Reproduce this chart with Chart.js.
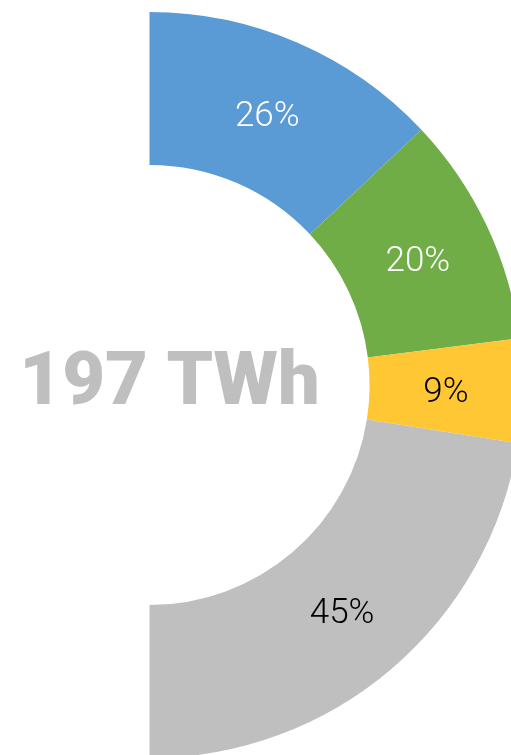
<!DOCTYPE html>
<html>
<head>
<meta charset="utf-8">
<script src="https://cdn.jsdelivr.net/npm/chart.js@4/dist/chart.umd.min.js"></script>
<style>
  html, body { margin: 0; padding: 0; background: #fff; overflow: hidden; }
  #wrap { position: relative; width: 672px; height: 770px; }
</style>
</head>
<body>
<div id="wrap"><canvas id="chart"></canvas></div>
<script>
// Share of generation, right half-donut
const categories = ["Blue", "Green", "Yellow", "Grey"]
const shares = [26, 20, 9, 45]
const sliceColors = ["#5b9bd5", "#70ad47", "#ffc733", "#bfbfbf"]
const labelColors = ["#ffffff", "#ffffff", "#000000", "#000000"]
const centerText = "197 TWh"

// Draws the percent labels at the middle of each slice and the total text
const labelPlugin = {
  id: "sliceLabels",
  afterDatasetsDraw(chart) {
    const ctx = chart.ctx
    const meta = chart.getDatasetMeta(0)
    ctx.save()
    ctx.textAlign = "center"
    ctx.textBaseline = "middle"
    ctx.font = "300 35px Roboto"
    meta.data.forEach((arc, i) => {
      const mid = (arc.startAngle + arc.endAngle) / 2
      const r = (arc.innerRadius + arc.outerRadius) / 2
      ctx.fillStyle = labelColors[i]
      ctx.fillText(shares[i] + "%", arc.x + Math.cos(mid) * r, arc.y + Math.sin(mid) * r + 4)
    })
    const first = meta.data[0]
    ctx.font = "900 74px Roboto"
    ctx.fillStyle = "#bfbfbf"
    ctx.fillText(centerText, first.x + 20, first.y)
    ctx.restore()
  },
}

new Chart(document.getElementById("chart"), {
  type: "doughnut",
  data: {
    labels: categories,
    datasets: [
      {
        data: shares,
        backgroundColor: sliceColors,
        borderWidth: 0,
      },
    ],
  },
  options: {
    responsive: true,
    maintainAspectRatio: false,
    animation: false,
    rotation: 0,
    circumference: 180,
    radius: 373,
    cutout: "59%",
    plugins: {
      legend: { display: false },
      tooltip: { enabled: false },
    },
  },
  plugins: [labelPlugin],
})
</script>
</body>
</html>
